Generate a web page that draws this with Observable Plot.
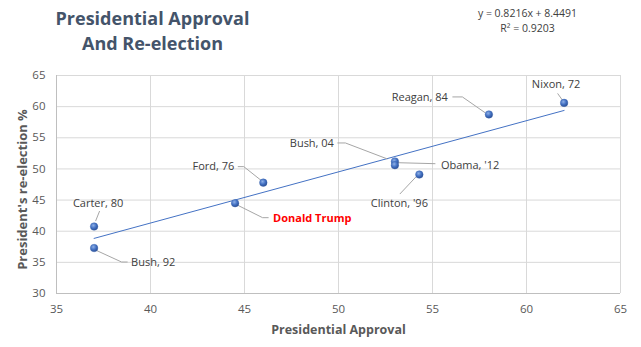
<!DOCTYPE html>
<html>
<head>
<meta charset="utf-8">
<script src="https://cdn.jsdelivr.net/npm/d3@7"></script>
<script src="https://cdn.jsdelivr.net/npm/@observablehq/plot@0.6"></script>
<style>
  html, body { margin: 0; padding: 0; background: #fff; }
  #chart svg { display: block; }
</style>
</head>
<body>
<div id="chart"></div>
<script>
// ---- data ----
const names = ["Nixon, 72", "Reagan, 84", "Bush, 04", "Obama, '12", "Clinton, '96", "Ford, 76", "Donald Trump", "Carter, 80", "Bush, 92"];
const approval = [62.0, 58.0, 53.0, 53.0, 54.3, 46.0, 44.5, 37.0, 37.0];
const reelection = [60.6, 58.75, 51.2, 50.6, 49.1, 47.8, 44.5, 40.75, 37.3];
const xTicks = [35, 40, 45, 50, 55, 60, 65];
const yTicks = [30, 35, 40, 45, 50, 55, 60, 65];
const slope = 0.8216, intercept = 8.4491, r2 = 0.9203;
const titleLines = ["Presidential Approval", "And Re-election"];
const xTitle = "Presidential Approval";
const yTitle = "President's re-election %";
const highlight = "Donald Trump";

// ---- layout (pixel offsets of labels / leader elbows relative to each point) ----
const labelLayout = {
  "Nixon, 72":    {dx: -8,  dy: -18, anchor: "middle", leader: [[-6, -9], [-1, -2]]},
  "Reagan, 84":   {dx: -41, dy: -17, anchor: "end",    leader: [[-36, -17], [-26, -17], [-3, -1]]},
  "Bush, 04":     {dx: -61, dy: -18, anchor: "end",    leader: [[-57, -18], [-49, -18], [-7, -2]]},
  "Obama, '12":   {dx: 46,  dy: 0,   anchor: "start",  leader: [[3, -2], [41, -1]]},
  "Clinton, '96": {dx: -20, dy: 29,  anchor: "middle", leader: [[-19, 20], [-3, 3]]},
  "Ford, 76":     {dx: -29, dy: -16, anchor: "end",    leader: [[-25, -15.5], [-19, -15.5], [-2, -2]]},
  "Donald Trump": {dx: 38,  dy: 15,  anchor: "start",  leader: [[2, 2], [28, 15], [34, 15]]},
  "Carter, 80":   {dx: 4,   dy: -23, anchor: "middle", leader: [[6, -15], [2, -5]]},
  "Bush, 92":     {dx: 37,  dy: 14,  anchor: "start",  leader: [[3, 3], [28, 14.5], [34, 14.5]]}
};

const points = names.map((n, i) => ({name: n, x: approval[i], y: reelection[i]}));
const fitX = [d3.min(approval), d3.max(approval)];
const trend = fitX.map(x => ({x, y: slope * x + intercept}));

const FONT = "'Open Sans', 'Noto Sans', sans-serif";

const defsMark = () => {
  const defs = d3.create("svg:defs");
  const g = defs.append("radialGradient").attr("id", "sphere")
    .attr("cx", "40%").attr("cy", "35%").attr("r", "65%");
  g.append("stop").attr("offset", "0%").attr("stop-color", "#8fb0e6");
  g.append("stop").attr("offset", "55%").attr("stop-color", "#4472C4");
  g.append("stop").attr("offset", "100%").attr("stop-color", "#2c4f93");
  return defs.node();
};

const leaderMark = (index, scales) => {
  const g = d3.create("svg:g").attr("fill", "none").attr("stroke", "#A6A6A6").attr("stroke-width", 1);
  points.forEach(p => {
    const L = labelLayout[p.name];
    const px = scales.x(p.x), py = scales.y(p.y);
    g.append("path").attr("d", d3.line()(L.leader.map(([a, b]) => [px + a, py + b])));
  });
  return g.node();
};

const labelMarks = points.map(p => {
  const L = labelLayout[p.name];
  const isHi = p.name === highlight;
  return Plot.text([p], {
    x: "x", y: "y", text: "name",
    dx: L.dx, dy: L.dy, textAnchor: L.anchor,
    fill: isHi ? "#FF0000" : "#404040",
    fontWeight: isHi ? "bold" : "normal",
    fontSize: 11
  });
});

const chart = Plot.plot({
  width: 641,
  height: 347,
  marginLeft: 56,
  marginRight: 21,
  marginTop: 75,
  marginBottom: 54,
  style: {fontFamily: FONT, background: "#fff", overflow: "visible"},
  x: {domain: [35, 65], ticks: xTicks, label: null},
  y: {domain: [30, 65], ticks: yTicks, label: null},
  marks: [
    defsMark,
    Plot.gridX(xTicks, {stroke: "#D9D9D9", strokeOpacity: 1}),
    Plot.gridY(yTicks, {stroke: "#D9D9D9", strokeOpacity: 1}),
    Plot.ruleX([35], {stroke: "#BFBFBF"}),
    Plot.ruleY([30], {stroke: "#BFBFBF"}),
    Plot.axisX(xTicks, {tickSize: 0, tickPadding: 11, fill: "#595959", fontSize: 11.5, label: null}),
    Plot.axisY(yTicks, {tickSize: 0, tickPadding: 11, fill: "#595959", fontSize: 11.5, label: null}),
    Plot.line(trend, {x: "x", y: "y", stroke: "#4472C4", strokeWidth: 1}),
    leaderMark,
    Plot.dot(points, {x: "x", y: "y", r: 3.8, fill: "url(#sphere)", stroke: "#3a64b0", strokeWidth: 0.4}),
    ...labelMarks,
    // titles
    Plot.text([titleLines[0]], {frameAnchor: "top", dx: -186, dy: -56, fontSize: 18, fontWeight: "bold", fill: "#44546A", lineAnchor: "middle"}),
    Plot.text([titleLines[1]], {frameAnchor: "top", dx: -186, dy: -31, fontSize: 18, fontWeight: "bold", fill: "#44546A", lineAnchor: "middle"}),
    Plot.text([`y = ${slope}x + ${intercept}`], {frameAnchor: "top", dx: 189, dy: -62, fontSize: 10.5, fill: "#404040", lineAnchor: "middle"}),
    Plot.text([`R² = ${r2}`], {frameAnchor: "top", dx: 189, dy: -47, fontSize: 10.5, fill: "#404040", lineAnchor: "middle"}),
    Plot.text([xTitle], {frameAnchor: "bottom", dy: 36, fontSize: 12.5, fontWeight: "bold", fill: "#595959", lineAnchor: "middle"}),
    Plot.text([yTitle], {frameAnchor: "left", dx: -34, dy: 5, rotate: -90, textAnchor: "middle", fontSize: 13, fontWeight: "bold", fill: "#595959", lineAnchor: "middle"})
  ]
});
document.getElementById("chart").appendChild(chart);
</script>
</body>
</html>
